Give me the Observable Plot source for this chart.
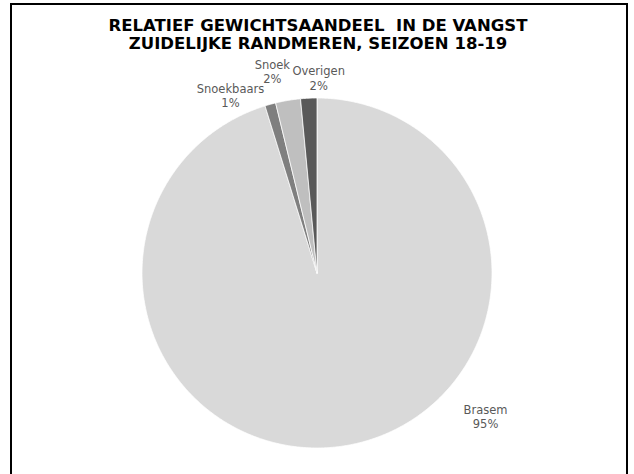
<!DOCTYPE html>
<html>
<head>
<meta charset="utf-8">
<script src="https://cdn.jsdelivr.net/npm/d3@7"></script>
<script src="https://cdn.jsdelivr.net/npm/@observablehq/plot@0.6"></script>
<style>
  html, body { margin: 0; padding: 0; background: #fff; overflow: hidden; }
  #wrap { position: relative; width: 634px; height: 474px; }
  .title { position: absolute; left: 0; width: 636px; text-align: center;
           font-family: "DejaVu Sans", Verdana, sans-serif; font-weight: bold;
           font-size: 16.5px; line-height: 18.5px; color: #000; white-space: pre; }
  #frame { position: absolute; left: 10px; top: 3px; width: 618px; height: 500px;
           box-sizing: border-box; border: 2px solid #000; pointer-events: none; }
  #chart { position: absolute; left: 0; top: 60px; }
</style>
</head>
<body>
<div id="wrap">
  <div class="title" style="top:16.5px">RELATIEF GEWICHTSAANDEEL  IN DE VANGST</div>
  <div class="title" style="top:35px">ZUIDELIJKE RANDMEREN, SEIZOEN 18-19</div>
  <div id="chart"></div>
  <div id="frame"></div>
</div>
<script>
// ---- data ----
const names = ["Brasem", "Snoekbaars", "Snoek", "Overigen"];
const shares = [95.2, 1.0, 2.3, 1.5];          // percent of catch weight
const pctLabels = ["95%", "1%", "2%", "2%"];

// ---- styling / layout (not data) ----
const colors = ["#d9d9d9", "#7f7f7f", "#bfbfbf", "#595959"];
// label placement: angle (deg, clockwise from 12 o'clock) and radius (in pie radii)
const labelAngle = [130.4, -26, -12.5, 0.5];
const labelRadius = [1.265, 1.128, 1.179, 1.114];

const table = names.map((name, i) => ({name, share: shares[i], pct: pctLabels[i]}));
const arcs = d3.pie().sort(null).value(d => d.share)(table);

// polygon vertices for every slice, in unit-circle data coordinates
const step = Math.PI / 360;
const slicePts = [];
arcs.forEach(a => {
  const n = a.data.name;
  slicePts.push({name: n, x: 0, y: 0});
  const k = Math.max(2, Math.ceil((a.endAngle - a.startAngle) / step));
  for (let j = 0; j <= k; j++) {
    const t = a.startAngle + (a.endAngle - a.startAngle) * j / k;
    slicePts.push({name: n, x: Math.sin(t), y: Math.cos(t)});
  }
  slicePts.push({name: n, x: 0, y: 0});
});

const labels = table.map((d, i) => {
  const t = labelAngle[i] * Math.PI / 180;
  return {text: d.name + "\n" + d.pct, x: labelRadius[i] * Math.sin(t), y: labelRadius[i] * Math.cos(t)};
});

const cx = 316.5, cy = 212.5, R = 175;
const chart = Plot.plot({
  width: 634,
  height: 414,
  margin: 0,
  style: {background: "transparent", overflow: "visible"},
  x: {domain: [-1, 1], range: [cx - R, cx + R], axis: null},
  y: {domain: [-1, 1], range: [cy + R, cy - R], axis: null},
  color: {domain: names, range: colors},
  marks: [
    Plot.line(slicePts, {x: "x", y: "y", z: "name", fill: "name", stroke: "white", strokeWidth: 0.75, curve: "linear"}),
    Plot.text(labels, {x: "x", y: "y", text: "text", fill: "#595959", fontSize: 11.5,
      fontFamily: "DejaVu Sans, Verdana, sans-serif", lineHeight: 1.25, textAnchor: "middle", lineAnchor: "middle"})
  ]
});
document.getElementById("chart").appendChild(chart);
</script>
</body>
</html>
